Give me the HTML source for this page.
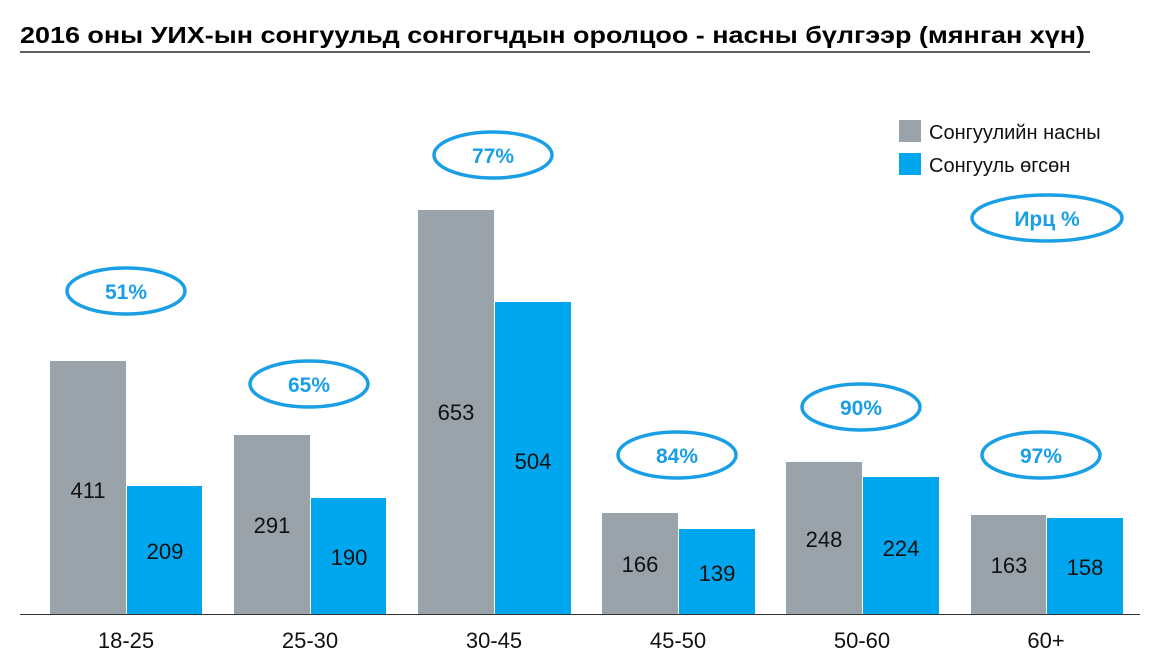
<!DOCTYPE html>
<html><head><meta charset="utf-8"><style>body{margin:0;background:#fff}svg{display:block}</style></head><body>
<svg width="1163" height="670" xmlns="http://www.w3.org/2000/svg" font-family="Liberation Sans, Arial, sans-serif">
<text x="20" y="43" font-size="23" font-weight="bold" fill="#000" textLength="1065" lengthAdjust="spacingAndGlyphs">2016 оны УИХ-ын сонгуульд сонгогчдын оролцоо - насны бүлгээр (мянган хүн)</text>
<line x1="20" y1="52" x2="1090" y2="52" stroke="#000" stroke-width="1.2"/>
<g fill="#9aa2aa">
<rect x="50" y="361" width="76" height="253"/>
<rect x="234" y="435" width="76" height="179"/>
<rect x="418" y="210" width="76" height="404"/>
<rect x="602" y="513" width="76" height="101"/>
<rect x="786" y="462" width="76" height="152"/>
<rect x="971" y="515" width="75" height="99"/>
</g>
<g fill="#00a6ee">
<rect x="127" y="486" width="75" height="128"/>
<rect x="311" y="498" width="75" height="116"/>
<rect x="495" y="302" width="76" height="312"/>
<rect x="679" y="529" width="76" height="85"/>
<rect x="863" y="477" width="76" height="137"/>
<rect x="1047" y="518" width="76" height="96"/>
</g>
<line x1="20" y1="614.5" x2="1140" y2="614.5" stroke="#333" stroke-width="1"/>
<g font-size="22" fill="#111" text-anchor="middle">
<text x="88" y="498">411</text><text x="165" y="559">209</text>
<text x="272" y="533">291</text><text x="349" y="565">190</text>
<text x="456" y="420">653</text><text x="533" y="469">504</text>
<text x="640" y="572">166</text><text x="717" y="581">139</text>
<text x="824" y="547">248</text><text x="901" y="556">224</text>
<text x="1009" y="573">163</text><text x="1085" y="575">158</text>
</g>
<g font-size="22" fill="#111" text-anchor="middle">
<text x="126" y="648">18-25</text><text x="310" y="648">25-30</text><text x="494" y="648">30-45</text>
<text x="678" y="648">45-50</text><text x="862" y="648">50-60</text><text x="1046" y="648">60+</text>
</g>
<g fill="none" stroke="#1a9fe6" stroke-width="3.5">
<ellipse cx="126" cy="291" rx="59" ry="23"/>
<ellipse cx="309" cy="384" rx="59" ry="23"/>
<ellipse cx="493" cy="155" rx="59" ry="23"/>
<ellipse cx="677" cy="455" rx="59" ry="23"/>
<ellipse cx="861" cy="407" rx="59" ry="23"/>
<ellipse cx="1041" cy="455" rx="59" ry="23"/>
<ellipse cx="1047" cy="218" rx="75" ry="23"/>
</g>
<g font-size="21" font-weight="bold" fill="#1a9fe6" text-anchor="middle">
<text x="126" y="299">51%</text><text x="309" y="392">65%</text><text x="493" y="163">77%</text>
<text x="677" y="463">84%</text><text x="861" y="415">90%</text><text x="1041" y="463">97%</text>
<text x="1047" y="226">Ирц %</text>
</g>
<rect x="899" y="120" width="22" height="22" fill="#9aa2aa"/>
<rect x="899" y="153" width="22" height="22" fill="#00a6ee"/>
<g font-size="20" fill="#111"><text x="929" y="139">Сонгуулийн насны</text><text x="929" y="172">Сонгууль өгсөн</text></g>
</svg>
</body></html>
